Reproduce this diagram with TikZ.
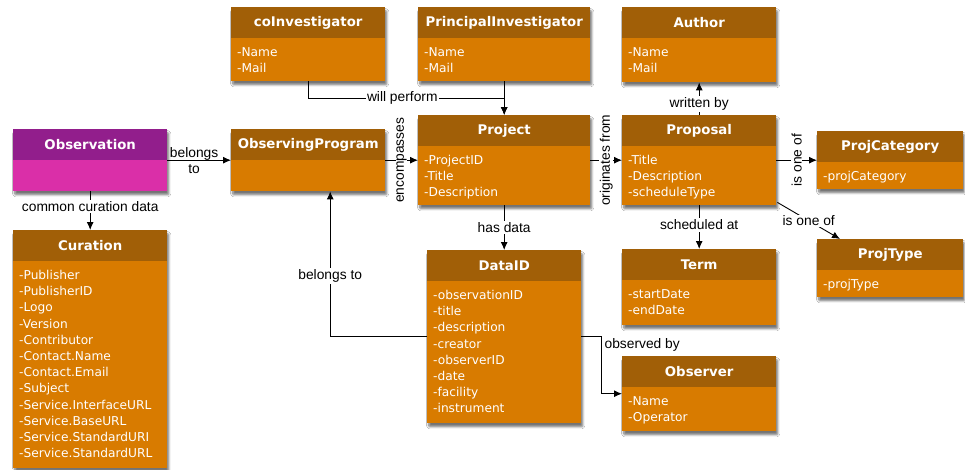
\documentclass[tikz,border=0pt]{standalone}
\usepackage{fontspec}
\setmainfont{Liberation Sans}
\newfontfamily\boxfont{DejaVu Sans}
\usetikzlibrary{arrows.meta,calc,shadows.blur}
\definecolor{hdr}{RGB}{161,95,7}
\definecolor{bdy}{RGB}{216,123,0}
\definecolor{phdr}{RGB}{146,30,140}
\definecolor{pbdy}{RGB}{218,47,168}
\tikzset{
 clsbox/.style={rectangle, fill=bdy, inner sep=0pt, anchor=north west,
   blur shadow={shadow xshift=1.5pt, shadow yshift=-3.5pt, shadow blur steps=6, shadow blur extra rounding=1pt, shadow opacity=55}},
 clshead/.style={rectangle, fill=hdr, inner sep=0pt, minimum height=31pt, anchor=north west, text=white,
   font=\boxfont\bfseries\fontsize{13.3}{16}\selectfont},
 clsitems/.style={inner sep=0pt, anchor=north west, text=white, align=left,
   font=\boxfont\fontsize{12.2}{16.2}\selectfont},
 conn/.style={draw=black, line width=0.9pt, -{Latex[length=8pt,width=7pt]}},
 lbl/.style={fill=white, inner sep=1.5pt, font=\fontsize{13.8}{16}\selectfont, text=black},
 lblnf/.style={inner sep=1pt, font=\fontsize{13.8}{16}\selectfont, text=black, align=center},
}
% #1 name, #2 x, #3 y, #4 width, #5 height, #6 title, #7 items
\newcommand\umlclass[7]{%
 \node[clsbox, minimum width=#4pt, minimum height=#5pt] (#1) at (#2,#3) {};
 \node[clshead, minimum width=#4pt] (#1-t) at (#1.north west) {#6};
 \node[clsitems] (#1-i) at ($(#1.north west)+(6,38)$) {\strut #7};
}
\begin{document}
\begin{tikzpicture}[x=1pt,y=-1pt]
\useasboundingbox[fill=white] (0,0) rectangle (965,469);

% Observation (purple)
\node[clsbox, fill=pbdy, minimum width=154pt, minimum height=62pt] (obsv) at (13,129) {};
\node[clshead, fill=phdr, minimum width=154pt] (obsv-t) at (obsv.north west) {Observation};

\umlclass{op}{231}{129}{154}{62}{ObservingProgram}{}
\umlclass{cur}{13}{230}{154}{238}{Curation}{-Publisher\\-PublisherID\\-Logo\\-Version\\-Contributor\\-Contact.Name\\-Contact.Email\\-Subject\\-Service.InterfaceURL\\-Service.BaseURL\\-Service.StandardURI\\-Service.StandardURL}
\umlclass{coi}{231}{7}{154}{74}{coInvestigator}{-Name\\-Mail}
\umlclass{pi}{418}{7}{172}{74}{PrincipalInvestigator}{-Name\\-Mail}
\umlclass{auth}{622}{7}{154}{75}{Author}{-Name\\-Mail}
\umlclass{proj}{418}{115}{172}{90}{Project}{-ProjectID\\-Title\\-Description}
\umlclass{prop}{622}{115}{154}{90}{Proposal}{-Title\\-Description\\-scheduleType}
\umlclass{pcat}{817}{131}{146}{58}{ProjCategory}{-projCategory}
\umlclass{ptype}{817}{239}{146}{58}{ProjType}{-projType}
\umlclass{term}{622}{249}{154}{76}{Term}{-startDate\\-endDate}
\umlclass{did}{427}{250}{154}{173}{DataID}{-observationID\\-title\\-description\\-creator\\-observerID\\-date\\-facility\\-instrument}
\umlclass{obsr}{622}{356}{154}{75}{Observer}{-Name\\-Operator}

% connectors
\draw[conn] (obsv.east) -- node[lblnf, pos=0.42]{belongs\\to} (op.west);
\draw[conn] (obsv.south) -- node[lbl, pos=0.38]{common curation data} (cur.north);
\draw[conn] (coi.south) |- node[lbl, pos=0.74]{will perform} ($(proj.north)+(0,-17)$) -- (proj.north);
\draw[conn] (pi.south) -- (proj.north);
\draw[conn] (op.east) -- node[lbl, rotate=90, inner sep=0.5pt]{encompasses} (proj.west);
\draw[conn] (proj.east) -- node[lbl, rotate=90, inner sep=0.5pt]{originates from} (prop.west);
\draw[conn] (proj.south) -- node[lbl]{has data} (did.north);
\draw[conn] (prop.north) -- node[lbl, pos=0.35]{written by} (auth.south);
\draw[conn] (prop.east) -- node[lbl, rotate=90, inner sep=0.5pt]{is one of} (pcat.west);
\draw[conn] ($(prop.south east)+(1,-3)$) -- node[lbl, inner sep=1pt]{is one of} ($(ptype.north west)+(23,0)$);
\draw[conn] (prop.south) -- node[lbl, pos=0.45]{scheduled at} (term.north);
\draw[conn] (did.west) -| node[lbl, pos=0.71]{belongs to} ($(op.south)+(22,0)$);
\draw[conn] (did.east) -- ++(20,0) coordinate (ob1) |- (obsr.west);
\node[lblnf, anchor=north west] (oblbl) at ($(ob1)+(2,1)$) {observed by};
\end{tikzpicture}
\end{document}
